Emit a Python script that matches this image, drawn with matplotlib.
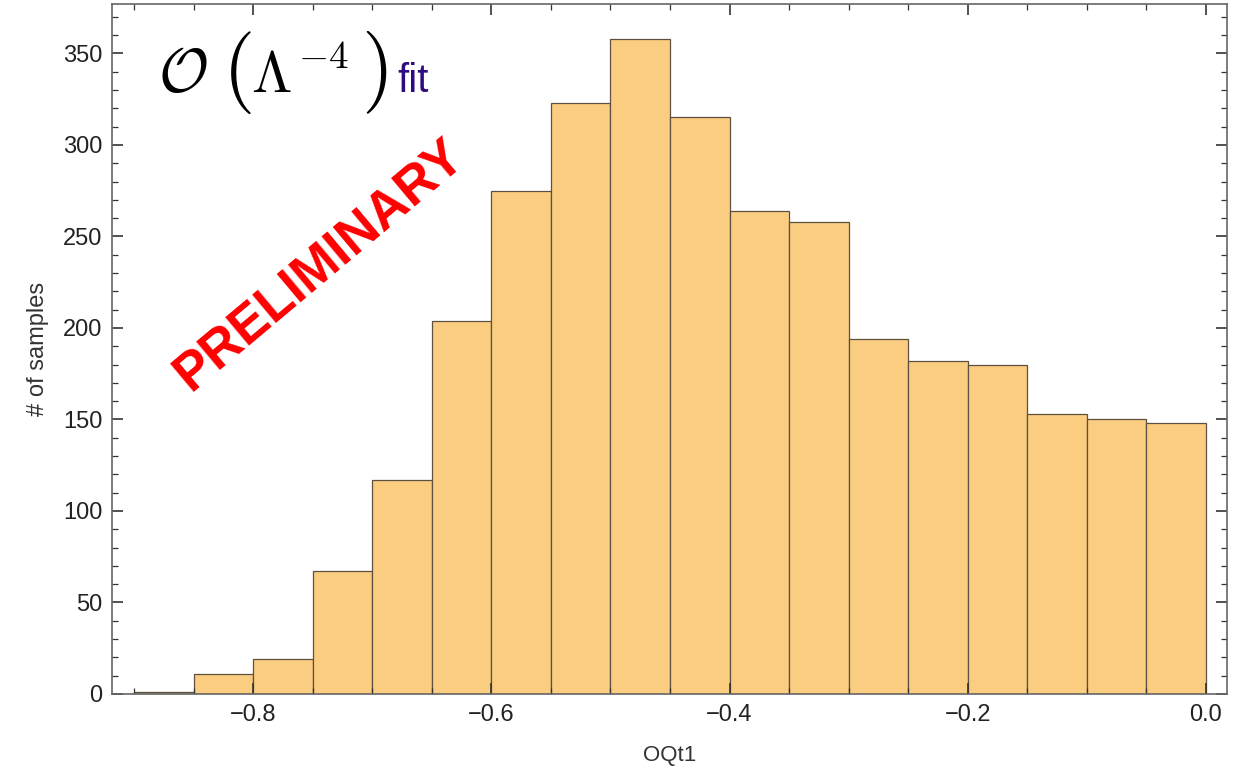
import matplotlib
matplotlib.use("Agg")
import matplotlib.pyplot as plt
from matplotlib.ticker import MultipleLocator, FixedLocator

plt.rcParams['font.family'] = ['Liberation Sans', 'DejaVu Sans']
plt.rcParams['mathtext.fontset'] = 'cm'

bin_left = [-0.90, -0.85, -0.80, -0.75, -0.70, -0.65, -0.60, -0.55, -0.50,
            -0.45, -0.40, -0.35, -0.30, -0.25, -0.20, -0.15, -0.10, -0.05]
bin_width = 0.05
counts = [1, 11, 19, 67, 117, 204, 275, 323, 358,
          315, 264, 258, 194, 182, 180, 153, 150, 148]
x_ticks = [-0.8, -0.6, -0.4, -0.2, 0.0]
x_tick_labels = ["\u22120.8", "\u22120.6", "\u22120.4", "\u22120.2", "0.0"]
y_ticks = [0, 50, 100, 150, 200, 250, 300, 350]

W, H = 1236, 769
fig = plt.figure(figsize=(W / 100, H / 100), dpi=100)
L, R, T, B = 112, 1227, 4, 694
ax = fig.add_axes([L / W, (H - B) / H, (R - L) / W, (B - T) / H])

ax.bar(bin_left, counts, width=bin_width, align='edge',
       color='#fbcd80', edgecolor='#5e5040', linewidth=0.9)

ax.set_xlim(-0.9185, 0.0177)
ax.set_ylim(0, 377)

frame_col = '#666666'
for s in ax.spines.values():
    s.set_color(frame_col)
    s.set_linewidth(1.2)

ax.xaxis.set_major_locator(FixedLocator(x_ticks))
ax.set_xticklabels(x_tick_labels)
ax.xaxis.set_minor_locator(MultipleLocator(0.05))
ax.yaxis.set_major_locator(FixedLocator(y_ticks))
ax.yaxis.set_minor_locator(MultipleLocator(10))

ax.tick_params(which='both', direction='in', top=True, right=True,
               color='#333333', labelsize=17, labelcolor='#222222')
ax.tick_params(which='major', length=8, width=1.2, pad=7)
ax.tick_params(which='minor', length=4.5, width=0.9)

ax.set_xlabel('OQt1', fontsize=16, color='#333333', labelpad=14)
ax.set_ylabel('# of samples', fontsize=17, color='#333333', labelpad=10)


def ftext(px, py, s, **kw):
    fig.text(px / W, 1 - py / H, s, ha='left', va='baseline', **kw)


base = 92
ftext(158, base, r'$\mathcal{O}$', fontsize=44, color='black')
ftext(222, base + 1, r'$($', fontsize=60, color='black')
ftext(251, base, r'$\Lambda$', fontsize=42, color='black')
ftext(298, 68, r'$-4$', fontsize=28, color='black')
ftext(361, base + 1, r'$)$', fontsize=60, color='black')
ftext(397, base, 'fit', fontsize=29, color='#2e0b7e')

ax.text(0.186, 0.622, 'PRELIMINARY', transform=ax.transAxes,
        fontsize=38, fontweight='bold', color='#ff0000',
        rotation=40, ha='center', va='center', rotation_mode='anchor')

fig.savefig('out.png', dpi=100)
